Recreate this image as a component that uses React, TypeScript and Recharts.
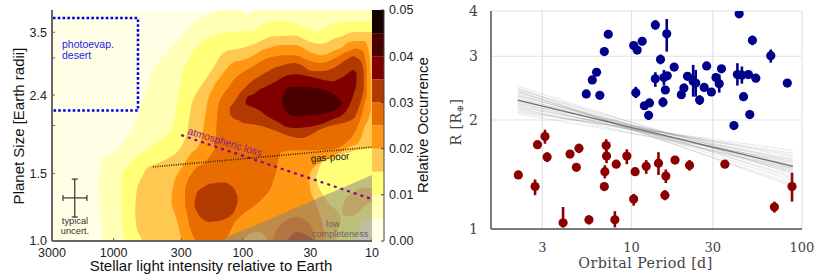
import React from 'react';
import {
  Area,
  Bar,
  CartesianGrid,
  ComposedChart,
  ErrorBar,
  Line,
  ReferenceArea,
  Scatter,
  XAxis,
  YAxis,
} from 'recharts';

type Band = [number, number, number];

const sansFont = '"Liberation Sans", Arial, sans-serif';
const serifFont = '"DejaVu Serif", serif';

// left panel ticks
const fluxTicks = [3000, 1000, 300, 100, 30, 10];
const sizeTicks = [1, 1.5, 2, 2.4, 3, 3.5];
const sizeLabels = [1, 1.5, 2.4, 3.5];

// colour steps of the occurrence map, low to high
const levelColors = [
  '#FFFFE6', '#FFFFB6', '#FFFF78', '#FFC850', '#FF9712',
  '#E96C00', '#B23A00', '#800000', '#4B0000', '#170000',
];
const levelStep = [0.005, 0.005, 0.005, 0.005, 0.005, 0.005, 0.005, 0.005, 0.005, 0.005];
const occurrenceTicks = [0, 0.01, 0.02, 0.03, 0.04, 0.05];

// contour regions as [flux, lower size, upper size]
const level1: Band[] = [
  [1300, 1.36, 1.44], [1250, 1.17, 1.575], [1200, 1, 1.645], [1000, 1, 1.705], [800, 1, 1.865],
  [700, 1, 2.005], [600, 1, 2.29], [500, 1, 2.79], [400, 1, 3.05], [300, 1, 3.42], [250, 1, 3.66],
  [200, 1, 3.86], [170, 1, 3.94], [150, 1, 4], [120, 1, 4], [105, 1, 4], [100, 1, 3.97], [92, 1, 3.9],
  [85, 1, 3.97], [80, 1, 4], [50, 1, 4], [30, 1, 4], [15, 1, 4], [13.5, 1, 4], [12, 1.055, 4], [10, 1.095, 4],
];
const level2: Band[] = [
  [875, 1.28, 1.44], [850, 1.1, 1.51], [800, 1, 1.55], [700, 1, 1.635], [600, 1, 1.695], [500, 1, 1.77],
  [400, 1, 1.88], [350, 1, 1.97], [320, 1, 2.33], [300, 1, 2.63], [250, 1, 3.07], [200, 1, 3.34],
  [170, 1, 3.44], [150, 1, 3.475], [120, 1, 3.505], [100, 1, 3.525], [85, 1, 3.525], [70, 1, 3.66],
  [60, 1, 3.72], [50, 1, 3.75], [40, 1, 3.7], [33, 1, 3.6], [27, 1, 3.525], [22, 1, 3.64], [17, 1, 3.72],
  [15, 1, 3.74], [13, 1.035, 3.74], [12, 1.12, 3.74], [10, 1.15, 3.74],
];
const level3: Band[] = [
  [680, 1.17, 1.24], [660, 1.07, 1.36], [620, 1.03, 1.44], [600, 1, 1.475], [550, 1, 1.55], [500, 1, 1.575],
  [400, 1, 1.625], [300, 1, 1.76], [270, 1, 1.925], [250, 1, 2.26], [230, 1, 2.415], [200, 1, 2.595],
  [170, 1, 2.82], [150, 1, 3.03], [130, 1, 3.135], [110, 1, 3.165], [85, 1, 3.24], [70, 1, 3.34],
  [60, 1, 3.41], [50, 1, 3.42], [40, 1, 3.43], [30, 1, 3.3], [28, 1, 3.28], [27.5, 1.375, 3.27], [27, 1.46, 3.27],
  [26, 1.53, 3.26], [23, 1.625, 3.28], [20, 1.64, 3.36], [17, 1.685, 3.42], [15, 1.7, 3.485], [14, 1.715, 3.5],
  [12, 1.735, 3.505], [10, 1.75, 3.505],
];
const level3Wedge: Band[] = [
  [27.5, 1, 1.46], [26, 1, 1.385], [24, 1, 1.32], [21.5, 1, 1.25], [19, 1, 1.205], [18, 1.1, 1.175], [17.5, 1.14, 1.15],
];
const level3Pocket: Band[] = [
  [17, 1.18, 1.21], [16, 1.16, 1.29], [15, 1.16, 1.32], [13, 1.18, 1.36], [12, 1.215, 1.375], [10, 1.265, 1.375],
];
const level4: Band[] = [
  [355, 1.24, 1.32], [340, 1.19, 1.425], [320, 1.12, 1.495], [300, 1.02, 1.55], [290, 1, 1.575], [250, 1, 1.695],
  [220, 1, 1.77], [200, 1, 2.005], [190, 1, 2.26], [170, 1, 2.505], [150, 1, 2.67], [130, 1, 2.84], [115, 1, 2.935],
  [100, 1, 2.96], [85, 1, 3.03], [70, 1, 3.145], [60, 1, 3.2], [50, 1, 3.24], [40, 1, 3.24], [31, 1, 3.12],
  [30.5, 1.46, 3.11], [30, 1.51, 3.105], [25, 1.605, 3.05], [20, 1.665, 3.125], [17, 1.715, 3.2], [15, 1.76, 3.3],
  [13, 1.79, 3.32], [12, 1.88, 3.32], [11.5, 1.97, 3.32], [10.6, 2.09, 3.145], [10.2, 2.195, 2.69],
];
const level4Wedge: Band[] = [
  [31, 1, 1.46], [30, 1, 1.36], [28, 1, 1.28], [26, 1, 1.2], [24, 1, 1.1], [23, 1, 1.01],
];
const level4Hole: Band[] = [
  [100, 1, 1.005], [85, 1, 1.05], [75, 1, 1.055], [65, 1, 1.01],
];
const level5: Band[] = [
  [280, 1.24, 1.36], [270, 1.17, 1.425], [250, 1.055, 1.495], [230, 1.005, 1.55], [200, 1, 1.595], [180, 1, 1.665],
  [165, 1, 1.75], [160, 1, 1.97], [155, 1, 2.25], [145, 1, 2.38], [130, 1.035, 2.505], [115, 1.12, 2.655],
  [100, 1.175, 2.755], [85, 1.22, 2.84], [70, 1.295, 2.96], [60, 1.39, 3.015], [55, 1.53, 3.03], [52, 1.675, 3.04],
  [50, 1.705, 3.05], [40, 1.725, 3.05], [30, 1.725, 2.945], [25, 1.725, 2.91], [20, 1.735, 2.98], [16, 1.8, 3.105],
  [14, 1.89, 3.16], [13.5, 1.93, 3.18], [13, 1.98, 3.17], [12, 2.13, 3.145], [11.5, 2.26, 3.07], [11, 2.39, 2.82],
];
const level5Hump: Band[] = [
  [58, 1, 1.01], [57, 1, 1.035], [50, 1, 1.11], [45, 1, 1.14], [38, 1, 1.155], [33, 1, 1.135], [30, 1, 1.1],
  [28, 1, 1.04], [27, 1, 1.005],
];
const level6: Band[] = [
  [126, 2.14, 2.235], [118, 2.09, 2.29], [105, 2.055, 2.43], [100, 2.03, 2.475], [85, 2.015, 2.61], [70, 1.99, 2.72],
  [60, 1.955, 2.805], [50, 1.91, 2.865], [40, 1.865, 2.91], [35, 1.855, 2.87], [30, 1.89, 2.78], [25, 1.955, 2.77],
  [20, 2.005, 2.82], [16, 2.04, 2.96], [14, 2.08, 3.03], [13, 2.17, 3], [12, 2.36, 2.91], [11.6, 2.475, 2.74],
];
const level6Blob: Band[] = [
  [236, 1.225, 1.26], [226, 1.19, 1.34], [214, 1.155, 1.365], [196, 1.13, 1.39], [180, 1.12, 1.41], [165, 1.125, 1.415],
  [150, 1.13, 1.42], [138, 1.14, 1.42], [126, 1.16, 1.4], [116, 1.195, 1.365], [110, 1.26, 1.31],
];
const level6Hump: Band[] = [
  [45, 1, 1.005], [38, 1, 1.055], [33, 1, 1.04], [28, 1, 1.005],
];
const level7: Band[] = [
  [95, 2.275, 2.33], [90, 2.25, 2.39], [85, 2.235, 2.4], [75, 2.195, 2.475], [65, 2.115, 2.535], [55, 2.055, 2.61],
  [45, 1.98, 2.705], [38, 1.97, 2.72], [32, 1.98, 2.69], [25, 2.015, 2.64], [20, 2.08, 2.61], [17, 2.13, 2.67],
  [15, 2.25, 2.755], [14, 2.39, 2.79], [13.2, 2.55, 2.74],
];
const level8: Band[] = [
  [49.5, 2.275, 2.36], [47, 2.195, 2.46], [45, 2.155, 2.505], [40, 2.115, 2.52], [35, 2.115, 2.52], [30, 2.13, 2.52],
  [25, 2.14, 2.49], [21, 2.17, 2.445], [18.5, 2.21, 2.375], [17.2, 2.275, 2.3],
];

// overlays on the map
const completenessEdge: Band[] = [[155, 1, 1], [10, 1, 1.485]];
const desertBox = [[2950, 3.81], [648, 3.81], [648, 2.19], [2950, 2.19]];
const lossLine = [[300, 1.888], [10, 1.286]];
const gasPoorLine = [[497, 1.56], [10, 1.757]];
const typicalUncert = [{ x: 2000, y: 1.295, xErr: [390, 467], yErr: [0.14, 0.155] }];

// right panel: [period, radius, err low, err high], radius bounds only where the bar is visible
const periodTicks = [3, 10, 30, 100];
const radiusTicks = [1, 2, 3, 4];
const largePlanets: number[][] = [
  [7.31, 3.45], [6.93, 3.09], [6.24, 2.71], [5.89, 2.58], [5.43, 2.36], [6.52, 2.34], [10.3, 3.21], [10.8, 3.12],
  [11.55, 3.3], [10.6, 2.38, 2.3, 2.47], [11.9, 2.19], [12.75, 2.23], [12.6, 2.06, 2.0, 2.12], [13.8, 3.66, 3.55, 3.77],
  [16.1, 3.46, 3.09, 3.8], [14.8, 2.94, 2.85, 3.03], [17.8, 2.8], [16.2, 2.65], [15.5, 2.62, 2.49, 2.75],
  [13.8, 2.6, 2.47, 2.71], [15.8, 2.42], [15.3, 2.24, 2.17, 2.31], [19.6, 2.35], [20.3, 2.45, 2.38, 2.52], [21.3, 2.64],
  [23, 2.56, 2.32, 2.84], [23.8, 2.53, 2.32, 2.75], [25.1, 2.27, 2.2, 2.34], [26.7, 2.46], [29.4, 2.39], [27.6, 2.82],
  [33.7, 2.77], [31.3, 2.62, 2.55, 2.69], [32.7, 2.52, 2.38, 2.67], [41.8, 2.67, 2.49, 2.87], [44.4, 2.66, 2.52, 2.81],
  [48.5, 2.67], [53.6, 2.61], [45.4, 2.32], [49.4, 2.07], [39.9, 1.93], [42.8, 3.93], [51.2, 3.32, 3.22, 3.42],
  [65.6, 3.01, 2.88, 3.13], [82, 2.53],
];
const smallPlanets: number[][] = [
  [2.17, 1.41], [2.72, 1.31, 1.24, 1.37], [2.81, 1.71], [3.11, 1.8, 1.72, 1.88], [3.2, 1.58, 1.53, 1.63],
  [3.97, 1.04, 1.01, 1.15], [4.36, 1.61], [4.92, 1.67, 1.62, 1.72], [4.75, 1.48], [5.63, 1.06, 1.03, 1.09],
  [7.11, 1.7, 1.63, 1.77], [7.14, 1.59, 1.52, 1.65], [6.98, 1.44, 1.38, 1.5], [6.93, 1.31], [7.99, 1.06, 1.01, 1.12],
  [8.14, 1.51], [9.39, 1.59, 1.51, 1.66], [10.5, 1.44], [10.3, 1.21, 1.16, 1.25], [12.2, 1.49, 1.42, 1.55],
  [14.4, 1.52, 1.41, 1.63], [15.9, 1.4, 1.34, 1.46], [15.7, 1.24, 1.2, 1.28], [18, 1.55], [21.9, 1.5, 1.45, 1.55],
  [35.3, 1.51], [68.9, 1.15, 1.11, 1.19], [87.4, 1.31, 1.19, 1.43],
];

// regression draws: radius at the two ends of the fit
const fitPeriods = [2.15, 88.5];
const fitMean = [2.27, 1.49];
const fitDraws = [
  [2.48, 1.42], [2.45, 1.38], [2.42, 1.47], [2.4, 1.36], [2.38, 1.44], [2.36, 1.4], [2.34, 1.46], [2.33, 1.5],
  [2.31, 1.43], [2.29, 1.53], [2.27, 1.48], [2.25, 1.55], [2.24, 1.45], [2.22, 1.58], [2.21, 1.5], [2.19, 1.52],
  [2.17, 1.6], [2.16, 1.47], [2.14, 1.56], [2.12, 1.62], [2.1, 1.65], [2.08, 1.54], [2.44, 1.31], [2.4, 1.33],
];

const bandRows = (pts: Band[]) => pts.map(([x, lo, hi]) => ({ x, range: [lo, hi] }));
const xyRows = (pts: number[][]) => pts.map(([x, y]) => ({ x, y }));
const planetRows = (pts: number[][]) =>
  pts.map(([x, y, lo, hi]) => ({ x, y, err: lo === undefined ? [0, 0] : [y - lo, hi - y] }));

const contours: [Band[], string][] = [
  [level1, levelColors[1]],
  [level2, levelColors[2]],
  [level3, levelColors[3]],
  [level3Wedge, levelColors[3]],
  [level3Pocket, levelColors[3]],
  [level4, levelColors[4]],
  [level4Wedge, levelColors[4]],
  [level4Hole, levelColors[3]],
  [level5, levelColors[5]],
  [level5Hump, levelColors[5]],
  [level6, levelColors[6]],
  [level6Blob, levelColors[6]],
  [level6Hump, levelColors[6]],
  [level7, levelColors[7]],
  [level8, levelColors[8]],
];

const colorRow = [Object.fromEntries(levelStep.map((v, i) => [`b${i}`, v]))];

function OccurrenceMap() {
  return (
    <ComposedChart width={400} height={277} margin={{ top: 10, right: 28, bottom: 0, left: 0 }}>
      <XAxis
        dataKey="x"
        type="number"
        scale="log"
        domain={[10, 3000]}
        reversed
        allowDataOverflow
        ticks={fluxTicks}
        height={36}
        tick={{ fontFamily: sansFont, fontSize: 12.5, fill: '#222' }}
        tickSize={-3}
        tickMargin={10}
        interval={0}
        stroke="#666"
        axisLine={{ stroke: '#666', strokeWidth: 2 }}
      />
      <YAxis
        dataKey="y"
        type="number"
        scale="log"
        domain={[1, 4]}
        allowDataOverflow
        ticks={sizeTicks}
        width={52}
        tickFormatter={(v: number) => (sizeLabels.includes(v) ? v.toFixed(1) : '')}
        tick={{ fontFamily: sansFont, fontSize: 12.5, fill: '#222' }}
        tickSize={-3}
        tickMargin={8}
        interval={0}
        stroke="#666"
        axisLine={{ stroke: '#666', strokeWidth: 2 }}
      />
      <ReferenceArea x1={3000} x2={10} y1={1} y2={4} fill={levelColors[0]} fillOpacity={1} stroke="none" />
      {contours.map(([pts, color], i) => (
        <Area
          key={i}
          data={bandRows(pts)}
          dataKey="range"
          type="monotone"
          fill={color}
          fillOpacity={1}
          stroke="none"
          dot={false}
          activeDot={false}
          isAnimationActive={false}
        />
      ))}
      <Area
        data={bandRows(completenessEdge)}
        dataKey="range"
        type="linear"
        fill="#808080"
        fillOpacity={0.5}
        stroke="none"
        dot={false}
        activeDot={false}
        isAnimationActive={false}
      />
      <Line data={xyRows(desertBox)} dataKey="y" stroke="#0000f0" strokeWidth={2.5} strokeDasharray="2.6 2.2" dot={false} isAnimationActive={false} />
      <Line data={xyRows(lossLine)} dataKey="y" stroke="#7d0a8e" strokeWidth={2.2} strokeDasharray="3 4" dot={false} isAnimationActive={false} />
      <Line data={xyRows(gasPoorLine)} dataKey="y" stroke="#3a2a10" strokeWidth={1.6} strokeDasharray="1 1.3" dot={false} isAnimationActive={false} />
      <Scatter data={typicalUncert} shape={() => <g />} isAnimationActive={false}>
        <ErrorBar direction="x" dataKey="xErr" width={3} stroke="#333" strokeWidth={1.2} isAnimationActive={false} />
        <ErrorBar direction="y" dataKey="yErr" width={3} stroke="#333" strokeWidth={1.2} isAnimationActive={false} />
      </Scatter>
      {/* frame on the top and right sides */}
      <ReferenceArea x1={3000} x2={10} y1={4} y2={4} stroke="#777" strokeWidth={2} fill="none" ifOverflow="visible" />
      <ReferenceArea x1={10} x2={10} y1={1} y2={4} stroke="#444" strokeWidth={1} fill="none" ifOverflow="visible" />

      <text x={211} y={271} textAnchor="middle" fontFamily={sansFont} fontSize={15} fill="#111">Stellar light intensity relative to Earth</text>
      <text x={24} y={126} textAnchor="middle" fontFamily={sansFont} fontSize={15} fill="#111" transform="rotate(-90 24 126)">Planet Size [Earth radii]</text>
    </ComposedChart>
  );
}

// annotations sit above the filled contours, so they get their own layer
function MapNotes() {
  return (
    <svg width={400} height={277} style={{ position: 'absolute', left: 0, top: 0, pointerEvents: 'none' }}>
      <text x={62} y={48} fontFamily={sansFont} fontSize={10.5} fill="#2222ee">photoevap.</text>
      <text x={62} y={59} fontFamily={sansFont} fontSize={10.5} fill="#2222ee">desert</text>
      <text x={187} y={134} fontFamily={sansFont} fontSize={10.3} fill="#8a1a86" transform="rotate(17 187 134)">atmospheric loss</text>
      <text x={311} y={162} fontFamily={sansFont} fontSize={9.8} fill="#111" transform="rotate(-4 311 162)">gas-poor</text>
      <text x={333} y={227} textAnchor="middle" fontFamily={sansFont} fontSize={9.2} fill="#666">low</text>
      <text x={340} y={237} textAnchor="middle" fontFamily={sansFont} fontSize={9.2} fill="#666">completeness</text>
      <text x={75} y={224} textAnchor="middle" fontFamily={sansFont} fontSize={9.3} fill="#333">typical</text>
      <text x={75} y={234} textAnchor="middle" fontFamily={sansFont} fontSize={9.3} fill="#333">uncert.</text>
    </svg>
  );
}

function ColorBar() {
  return (
    <ComposedChart width={72} height={277} data={colorRow} barCategoryGap={0} margin={{ top: 10, right: 0, bottom: 36, left: 0 }}>
      <XAxis hide />
      <YAxis
        orientation="right"
        type="number"
        domain={[0, 0.05]}
        ticks={occurrenceTicks}
        width={60}
        tickFormatter={(v: number) => v.toFixed(2)}
        tick={{ fontFamily: sansFont, fontSize: 12.5, fill: '#222', textAnchor: 'start' }}
        tickSize={-3}
        tickMargin={8}
        interval={0}
        stroke="#444"
      />
      {levelColors.map((c, i) => (
        <Bar key={c} dataKey={`b${i}`} stackId="cb" fill={c} isAnimationActive={false} />
      ))}
      <text x={56} y={125} textAnchor="middle" fontFamily={sansFont} fontSize={15} fill="#111" transform="rotate(-90 56 125)">Relative Occurrence</text>
    </ComposedChart>
  );
}

const Planet = (color: string) => (p: any) => <circle cx={p.cx} cy={p.cy} r={4.6} fill={color} />;

function RadiusPeriod() {
  return (
    <ComposedChart width={390} height={277} margin={{ top: 11, right: 28, bottom: 0, left: 0 }}>
      <CartesianGrid stroke="#e2e2e2" strokeWidth={1.2} />
      <XAxis
        dataKey="x"
        type="number"
        scale="log"
        domain={[1.5, 100]}
        allowDataOverflow
        ticks={periodTicks}
        height={48}
        tick={{ fontFamily: serifFont, fontSize: 13, fill: '#444' }}
        tickLine={false}
        tickMargin={8}
        interval={0}
        axisLine={{ stroke: '#555', strokeWidth: 1.5 }}
      />
      <YAxis
        dataKey="y"
        type="number"
        scale="log"
        domain={[1, 4]}
        allowDataOverflow
        ticks={radiusTicks}
        width={51}
        tick={{ fontFamily: serifFont, fontSize: 14, fill: '#444' }}
        tickLine={false}
        tickMargin={7}
        interval={0}
        axisLine={{ stroke: '#555', strokeWidth: 1.5 }}
      />
      <ReferenceArea x1={1.5} x2={100} y1={4} y2={4} stroke="#888" strokeWidth={2} fill="none" ifOverflow="visible" />
      <ReferenceArea x1={100} x2={100} y1={1} y2={4} stroke="#888" strokeWidth={2} fill="none" ifOverflow="visible" />
      <Scatter data={planetRows(largePlanets)} shape={Planet('#00008b')} isAnimationActive={false}>
        <ErrorBar direction="y" dataKey="err" width={0} stroke="#00008b" strokeWidth={2.6} isAnimationActive={false} />
      </Scatter>
      <Scatter data={planetRows(smallPlanets)} shape={Planet('#8b0000')} isAnimationActive={false}>
        <ErrorBar direction="y" dataKey="err" width={0} stroke="#8b0000" strokeWidth={2.6} isAnimationActive={false} />
      </Scatter>
      {fitDraws.map(([a, b], i) => (
        <Line
          key={i}
          data={[{ x: fitPeriods[0], y: a }, { x: fitPeriods[1], y: b }]}
          dataKey="y"
          stroke="#808080"
          strokeOpacity={0.2}
          strokeWidth={1}
          dot={false}
          isAnimationActive={false}
        />
      ))}
      <Line
        data={[{ x: fitPeriods[0], y: fitMean[0] }, { x: fitPeriods[1], y: fitMean[1] }]}
        dataKey="y"
        stroke="#707070"
        strokeWidth={1.3}
        dot={false}
        isAnimationActive={false}
      />
      <text x={205.5} y={268} textAnchor="middle" fontFamily={serifFont} fontSize={14.3} fill="#444" letterSpacing={0.4}>Orbital Period [d]</text>
      <text x={21} y={122} textAnchor="middle" fontFamily={serifFont} fontSize={14.3} fill="#444" letterSpacing={0.4} transform="rotate(-90 21 122)">
        R [R<tspan fontSize={9} dy={2}>⊕</tspan><tspan dy={-2}>]</tspan>
      </text>
    </ComposedChart>
  );
}

export default function App() {
  return (
    <div style={{ position: 'absolute', left: 0, top: 0, width: 830, height: 277, background: '#fff', overflow: 'hidden' }}>
      <div style={{ position: 'absolute', left: 0, top: 0 }}><OccurrenceMap /></div>
      <MapNotes />
      <div style={{ position: 'absolute', left: 372, top: 0 }}><ColorBar /></div>
      <div style={{ position: 'absolute', left: 440, top: 0 }}><RadiusPeriod /></div>
    </div>
  );
}
